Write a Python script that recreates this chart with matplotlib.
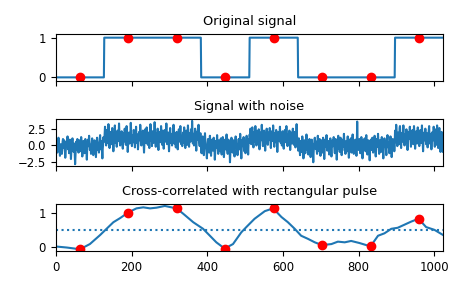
import numpy as np
import matplotlib
matplotlib.use("Agg")
import matplotlib.pyplot as plt

# original square wave (one level per 128-sample block)
levels = [0., 1., 1., 0., 1., 0., 0., 1.]
block = 128
clock = [64, 192, 320, 448, 576, 704, 832, 960]

# noise on top of the square wave (one value per sample)
noise = [
    0.3, 0.9, 0.4, -0.6, -1.1, -0.2, 0.5, 1.2, 0.7, -0.3, -0.8, -1.6, -0.4, 0.2, 0.1, -0.9,
    -1.3, -0.5, 0.6, 1.0, 0.2, -0.4, 0.8, 0.3, -0.7, -1.9, -1.0, 0.1, 0.6, -0.2, 0.4, 1.4,
    0.5, -0.6, -0.1, -1.2, 0.3, 0.9, 0.0, -0.5, -2.1, -0.8, 0.2, 0.7, 1.1, 0.4, -0.3, -1.0,
    -0.6, 0.3, -1.4, -2.9, -1.5, -0.2, 0.6, 0.1, -0.7, 1.0, 0.5, -0.4, -1.1, 0.2, 0.8, -0.1,
    -0.9, -0.3, 0.4, 1.3, 0.6, -0.5, -1.7, -0.8, 0.0, 0.7, 0.2, -0.6, -1.2, 0.4, 1.0, 0.3,
    -0.2, -1.0, -2.2, -0.4, 0.5, 0.9, -0.1, 0.6, 1.5, 0.2, -0.7, -0.3, 0.1, -1.3, -0.6, 0.4,
    1.1, 0.3, -0.5, -1.5, -0.9, 0.2, 0.8, -0.2, 0.5, -0.8, -1.8, -0.4, 0.6, 1.2, 0.0, -0.7,
    0.4, -0.1, -1.1, 0.3, 0.9, 1.6, 0.5, -0.6, -0.2, 0.7, -0.9, -2.0, -0.5, 0.2, 1.3, 0.6,
    -0.4, 0.8, 1.9, 0.5, -0.3, -1.0, 0.2, 1.4, 0.7, -0.6, 0.1, 2.3, 0.9, -0.5, -1.4, 0.0,
    0.6, 1.1, -0.2, -0.8, 0.4, 1.7, 0.3, -0.4, -1.9, -0.7, 0.5, 0.9, 2.1, 0.2, -0.6, 0.3,
    -0.1, -1.2, 0.7, 1.3, 0.4, -0.3, 0.8, 2.4, 1.0, -0.5, -1.0, 0.1, 0.6, -0.2, 1.2, 0.5,
    -0.8, -1.5, 0.3, 0.9, -0.4, 0.2, 1.6, 0.7, -0.1, -0.9, 0.4, 2.0, 0.8, -0.3, -2.0, -0.6,
    0.5, 1.0, 0.2, -0.7, -0.2, 0.9, 2.5, 1.2, -0.1, -1.1, -0.4, 0.6, 0.3, -0.5, 1.4, 0.7,
    -0.3, -1.3, 0.1, 0.8, 1.9, 0.4, -0.6, 0.0, 0.7, -1.6, -0.8, 0.3, 1.1, 0.5, -0.2, 2.2,
    0.9, -0.4, -1.0, 0.2, 0.6, -0.3, 1.3, 0.4, -0.7, -2.1, -0.5, 0.8, 1.5, 0.1, -0.6, 0.4,
    1.8, 0.6, -0.2, -0.9, 0.3, 1.0, -0.5, -1.4, 0.2, 0.7, 2.3, 0.9, -0.3, 0.1, -1.1, 0.5,
    1.2, 0.4, -0.6, 0.0, 0.8, 2.6, 0.7, -0.4, -1.2, 0.3, 0.9, -0.2, 0.5, 1.6, -0.7, -1.7,
    -0.3, 0.6, 1.1, 0.2, -0.5, 0.4, 2.0, 0.8, -0.1, -0.9, 0.5, 1.3, 0.0, -1.5, -0.6, 0.7,
    1.4, 0.3, -0.4, 0.9, 2.4, 0.6, -0.8, -0.2, 0.4, 1.0, -0.3, -1.9, -0.5, 0.6, 1.7, 0.2,
    -0.6, 0.1, 0.8, -1.0, -0.3, 0.5, 1.2, 2.2, 0.4, -0.7, 0.0, 0.9, -0.4, -1.3, 0.3, 1.1,
    0.5, -0.2, -1.6, -0.5, 0.7, 1.5, 0.2, -0.4, 0.9, 2.0, 0.6, -0.8, -0.1, 0.4, -1.1, 0.3,
    1.0, 0.2, -0.6, 1.8, 0.7, -0.3, -1.4, 0.0, 0.6, 1.3, 0.4, -0.9, 0.2, 2.1, 0.8, -0.5,
    -1.2, 0.1, 0.9, 0.3, -0.4, 1.5, 0.6, -0.2, 2.8, 1.1, -0.7, 0.2, 0.8, -1.0, -0.3, 0.5,
    1.6, 0.4, -0.8, -1.8, 0.0, 0.7, 1.2, -0.1, 0.5, 2.2, 0.3, -0.6, -1.1, 0.4, 0.9, 0.1,
    -0.5, -1.2, 0.3, 0.8, 1.4, 0.2, -0.6, -1.5, -0.3, 0.6, 1.9, 0.5, -0.4, 0.0, -0.9, -2.0,
    -0.7, 0.4, 1.0, 0.2, -0.3, -1.1, 0.5, 1.5, 0.7, -0.5, -1.6, -0.2, 0.3, 0.9, -0.1, -0.8,
    0.2, 1.2, 0.6, -0.4, -2.2, -1.0, 0.1, 0.7, -0.3, 0.4, 1.6, 0.3, -0.6, -1.3, 0.0, 0.8,
    0.5, -0.2, -0.9, 0.4, 1.1, 0.0, -1.4, -0.6, 0.3, 1.3, 0.6, -0.5, -1.8, -0.7, 0.2, 0.9,
    0.4, -0.6, 0.1, 1.7, 0.5, -0.8, -1.3, 0.2, 0.9, -0.1, -1.0, -0.4, -2.6, -1.2, 0.3, 0.7,
    1.2, 0.2, -0.5, -1.1, 0.0, 0.8, 0.3, -0.7, -1.7, -0.2, 0.6, 1.4, 0.4, -0.3, 0.1, -0.9,
    -1.5, -0.4, 0.5, 1.0, 0.2, -0.6, 0.7, 1.8, 0.3, -0.8, -2.0, -0.5, 0.4, 0.9, -0.1, 0.6,
    1.3, 0.1, -0.9, -0.3, 0.5, -1.2, -0.4, 0.8, 1.5, 0.2, -0.6, 0.0, -1.4, 0.3, 1.0, 0.4,
    0.7, -0.2, 1.6, 0.5, -0.8, -0.1, 0.9, 1.8, 0.3, -0.6, -1.3, 0.4, 1.1, 0.2, -0.4, 2.0,
    0.6, -0.5, -1.0, 0.3, 1.2, 0.0, -0.7, 0.8, 1.5, 0.4, -1.6, -0.3, 0.5, 1.0, -0.2, 0.7,
    2.2, 0.9, -0.4, -1.1, 0.1, 0.6, 1.3, 0.2, -0.6, -1.8, -0.5, 0.4, 0.8, 1.6, 0.3, -0.3,
    -0.9, 0.2, 1.0, 0.5, -0.1, 1.7, 0.6, -0.8, -1.4, 0.0, 0.7, 1.2, -0.3, 0.4, 2.1, 0.8,
    -0.2, -1.2, 0.3, 0.9, 0.1, -0.5, 1.4, 0.6, -0.4, -2.0, -0.7, 0.5, 1.1, 0.2, -0.3, 0.8,
    1.9, 0.4, -0.6, 0.0, 0.7, -1.0, -0.2, 1.2, 0.5, -0.8, -1.5, 0.3, 0.9, 1.4, 0.1, -0.5,
    0.6, 2.0, 0.7, -0.3, -1.1, 0.2, 0.8, -0.4, 0.4, 1.3, -0.1, -1.7, -0.6, 0.5, 1.0, 0.3,
    -0.7, 0.1, 1.6, 0.6, -0.2, -0.9, 0.4, 1.1, -0.5, -1.3, 0.2, 0.9, 2.3, 0.5, -0.4, 0.0,
    -0.8, 0.5, 1.1, 0.2, -0.6, -1.5, -0.3, 0.7, 0.1, -1.0, 0.4, 1.4, 0.6, -0.5, -2.0, -0.9,
    0.3, 0.8, -0.2, -1.2, 0.0, 0.6, 1.7, 0.4, -0.7, -0.1, 0.5, -1.4, -0.6, 0.2, 1.0, 0.3,
    -0.4, -1.8, -0.8, 0.4, 0.9, -0.3, 0.2, -1.1, -2.6, -1.0, 0.1, 0.7, 1.2, 0.3, -0.5, 0.0,
    0.6, -0.7, -1.3, 0.2, 1.5, 0.4, -0.2, -0.9, 0.5, 1.0, -0.4, -1.6, -0.5, 0.3, 0.8, -0.1,
    -1.1, 0.4, 1.2, 0.1, -0.6, -2.1, -0.7, 0.5, 0.9, -0.2, 0.3, 1.6, 0.5, -0.8, -0.3, 0.2,
    0.7, -0.5, -1.4, 0.0, 0.6, 1.1, 0.2, -0.9, -1.7, -0.4, 0.3, 0.8, -0.1, 0.5, 1.3, 0.0,
    -0.6, -1.2, 0.4, 1.0, 0.3, -0.3, -2.2, -0.7, 0.2, 0.9, 1.5, 0.4, -0.5, 0.1, -1.0, 0.6,
    1.2, 0.2, -0.4, -1.5, -0.6, 0.5, 0.9, -0.2, 0.3, 1.8, 0.6, -0.8, -0.1, -1.3, 0.4, 0.7,
    0.0, -0.9, 0.5, 1.4, 0.3, -0.4, -1.9, -0.6, 0.2, 0.8, -0.3, 1.1, 0.5, -1.1, -0.2, 0.6,
    1.7, 0.4, -0.5, -1.3, 0.1, 0.7, -0.2, 0.9, 0.3, -0.8, -1.6, 0.0, 3.7, 0.8, -0.4, 0.2,
    -0.7, 0.5, 1.0, -0.1, -1.2, -0.4, 0.6, 1.3, 0.2, -0.6, -2.0, -0.8, 0.3, 0.9, 0.4, -0.3,
    1.1, 0.2, -0.9, 0.5, 1.6, 0.0, -0.5, -1.4, 0.3, 0.8, -0.2, 0.6, -1.0, -2.3, -0.6, 0.4,
    0.9, 0.1, -0.7, 0.4, 1.2, -0.3, -1.1, 0.2, 0.7, -0.4, 1.5, 0.3, -0.8, -1.7, 0.0, 0.6,
    1.0, -0.2, 0.5, 1.8, 0.4, -0.6, -1.3, 0.1, 0.8, 0.2, -0.5, -1.0, 0.6, 1.3, -0.1, 0.3,
    -0.9, -2.0, -0.4, 0.7, 1.1, 0.3, -0.2, 0.6, -0.7, -1.5, 0.2, 0.9, 1.6, 0.4, -0.3, 0.0,
    0.5, -1.2, -0.6, 0.8, 1.4, 0.2, -0.4, -1.8, -0.7, 0.3, 1.0, 0.5, -0.1, 0.7, -0.9, 0.2,
    1.3, 0.4, -0.5, 2.2, 0.8, -0.2, -1.1, 0.3, 1.0, 0.6, -0.8, -0.3, 1.7, 2.0, 0.5, -0.6,
    -1.4, 0.1, 0.9, 0.3, -0.4, 1.2, 2.1, 0.7, -0.2, -1.0, 0.4, 0.8, -0.6, 0.2, 1.5, 0.4,
    -0.3, -1.7, -0.5, 0.6, 1.1, 0.0, 0.5, 1.9, 0.8, -0.4, -1.2, 0.2, 0.7, -0.1, 1.4, 0.3,
    -0.8, 0.4, 2.0, 0.9, -0.3, -1.5, -0.2, 0.6, 1.2, 0.1, -0.7, 0.5, 1.8, 0.6, -0.4, 0.2,
    -1.1, -0.3, 0.7, 1.4, 0.2, -0.6, 0.3, 2.1, 0.8, -0.5, -1.9, -0.4, 0.5, 1.0, -0.2, 0.4,
    1.6, 0.3, -0.8, -0.1, 0.9, 0.2, -1.3, -0.5, 0.6, 1.3, 2.0, 0.4, -0.7, 0.0, 0.8, -0.3,
    -1.6, -0.6, 0.4, 1.1, 0.5, -0.2, 1.9, 0.7, -0.4, -1.2, 0.1, 0.6, 1.5, 0.3, -0.9, 2.1,
    0.6, -0.3, -1.4, 0.2, 0.9, 1.7, 0.4, -0.6, -2.0, -0.8, 0.3, 1.1, 0.5, -1.2, -2.0, -1.1,
]

# cross-correlation curve
corr_x = [0, 29, 64, 90, 117, 134, 152, 170, 191, 213, 231, 249, 266, 288, 301,
          319, 336, 363, 389, 407, 424, 446, 468, 490, 505, 525, 552, 574, 596,
          613, 631, 648, 666, 684, 703, 728, 745, 763, 780, 802, 820, 831, 851,
          868, 886, 903, 921, 939, 958, 978, 1000, 1023]
corr_y = [0.02, -0.01, -0.06, 0.09, 0.35, 0.53, 0.72, 0.84, 1.0, 1.12, 1.15,
          1.12, 1.14, 1.19, 1.16, 1.12, 0.97, 0.72, 0.53, 0.33, 0.14, -0.04,
          0.09, 0.43, 0.6, 0.82, 1.04, 1.12, 0.87, 0.72, 0.53, 0.33, 0.24, 0.14,
          0.06, 0.09, 0.16, 0.14, 0.18, 0.12, 0.06, 0.02, 0.33, 0.40, 0.53, 0.56,
          0.65, 0.74, 0.82, 0.58, 0.50, 0.35]
corr_clock = [-0.05, 1.0, 1.12, -0.05, 1.12, 0.06, 0.03, 0.82]
threshold = 0.5

sig = np.repeat(levels, block)
sig_noise = sig + np.array(noise)

fig, (ax_orig, ax_noise, ax_corr) = plt.subplots(3, 1, sharex=True, figsize=(4.65, 2.88), dpi=100)
fig.subplots_adjust(left=0.12, right=0.953, top=0.883, bottom=0.127, hspace=0.785)

ax_orig.plot(sig)
ax_orig.plot(clock, sig[clock], 'ro')
ax_orig.set_title('Original signal', fontsize=9.3)
ax_orig.margins(0, 0.1)
ax_orig.set_yticks([0, 1])

ax_noise.plot(sig_noise)
ax_noise.set_title('Signal with noise', fontsize=9.3)
ax_noise.set_yticks([-2.5, 0, 2.5])

ax_corr.plot(corr_x, corr_y)
ax_corr.plot(clock, corr_clock, 'ro')
ax_corr.axhline(threshold, ls=':')
ax_corr.set_title('Cross-correlated with rectangular pulse', fontsize=9.3)
ax_corr.set_yticks([0, 1])

ax_corr.set_xlim(0, len(sig) - 1)
ax_corr.set_xticks([0, 200, 400, 600, 800, 1000])
for ax in (ax_orig, ax_noise, ax_corr):
    ax.tick_params(labelsize=8.4)

fig.savefig('out.png')
